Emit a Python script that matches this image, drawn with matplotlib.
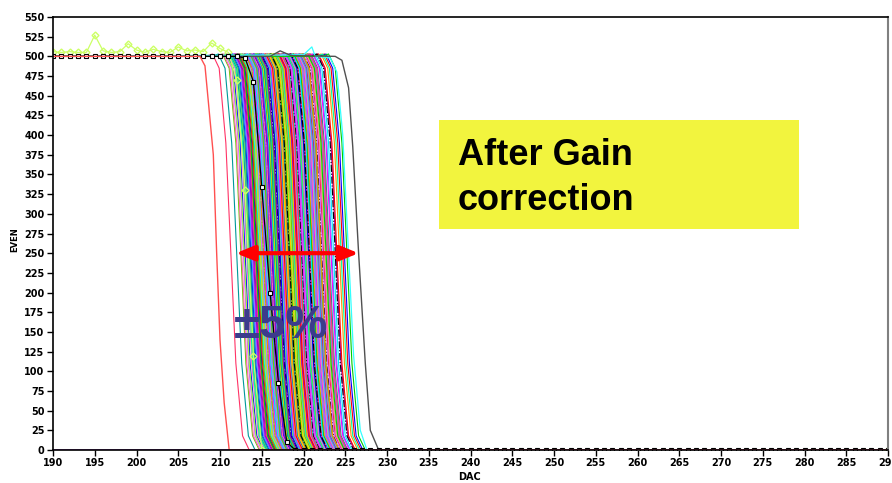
import matplotlib.pyplot as plt
from matplotlib.patches import Rectangle, FancyArrowPatch

# S-curve thresholds (DAC value at half height)
thresholds = [
    216.4, 219.8, 213.7, 221.3, 218.1, 215.2, 222.6, 217.5, 220.4, 214.3,
    219.1, 216.9, 223.4, 218.7, 212.8, 220.9, 217.2, 215.8, 221.7, 219.4,
    214.9, 218.3, 222.1, 216.1, 220.2, 213.2, 217.9, 223.9, 219.6, 215.5,
    221.0, 218.9, 214.6, 216.7, 222.9, 220.6, 217.0, 213.9, 219.2, 224.3,
    215.1, 218.5, 221.5, 216.3, 220.0, 214.1, 222.4, 217.7, 219.9, 212.5,
    218.0, 221.9, 215.9, 223.1, 216.6, 220.7, 214.4, 219.3, 217.4, 222.2,
    213.5, 218.8, 221.2, 216.0, 224.7, 219.7, 215.3, 220.3, 217.8, 214.8,
    222.8, 218.2, 216.5, 221.4, 213.0, 219.0, 223.6, 217.1, 220.5, 215.6,
    218.6, 214.0, 221.8, 216.8, 219.5, 222.0, 215.0, 217.6, 220.8, 213.4,
    218.4, 223.3, 216.2, 221.1, 214.7, 219.8, 217.3, 222.5, 215.7, 220.1,
    224.0, 218.9, 213.8, 216.9, 221.6, 219.1, 214.2, 217.9, 222.7, 215.4,
    220.6, 218.1, 216.4, 223.8, 212.9, 219.4, 221.3, 217.0, 214.5, 220.2,
    215.9, 218.7, 222.3, 216.6, 219.6, 213.6, 221.0, 217.5, 224.9, 215.2,
    220.9, 218.3, 214.9, 216.1, 222.9, 219.2, 217.7, 213.3, 221.7, 215.8,
    220.4, 218.0, 223.0, 216.7, 214.3, 219.9, 217.2, 222.1, 215.5, 220.7,
    218.6, 212.6, 221.9, 216.3, 219.3, 224.5, 217.4, 214.6, 220.0, 218.5,
    211.3, 212.0, 225.2,
]

# shape of one S-curve relative to its threshold
prof_dx = [-3.0, -2.2, -1.4, -0.6, 0.0, 0.6, 1.4, 2.2]
prof_y = [500, 503, 485, 390, 250, 110, 18, 0]

colors = ['#00cc00', '#ff00ff', '#0000ff', '#ff8c00', '#00e5ff', '#000000',
          '#99ff33', '#ff66b3', '#8080ff', '#9900cc', '#ff0000', '#00ff99',
          '#3399ff', '#66cc00', '#cc66ff', '#ffcc00', '#ff3366', '#009999']

# special channels
lime_x = [190, 191, 192, 193, 194, 195, 196, 197, 198, 199, 200, 201, 202,
          203, 204, 205, 206, 207, 208, 209, 210, 211, 212, 213, 214, 215, 290]
lime_y = [506, 505, 506, 505, 505, 527, 507, 505, 506, 516, 508, 505, 509,
          506, 505, 512, 507, 508, 506, 517, 510, 505, 470, 330, 120, 0, 0]

sq_x = [190, 191, 192, 193, 194, 195, 196, 197, 198, 199, 200, 201, 202, 203,
        204, 205, 206, 207, 208, 209, 210, 211, 212, 213, 214, 215, 216, 217,
        218, 219, 220, 221, 222, 223, 224, 225, 226, 227, 228, 229, 230, 231,
        232, 233, 234, 235, 236, 237, 238, 239, 240, 241, 242, 243, 244, 245,
        246, 247, 248, 249, 250, 251, 252, 253, 254, 255, 256, 257, 258, 259,
        260, 261, 262, 263, 264, 265, 266, 267, 268, 269, 270, 271, 272, 273,
        274, 275, 276, 277, 278, 279, 280, 281, 282, 283, 284, 285, 286, 287,
        288, 289, 290]
sq_y = [500] * 23 + [498, 468, 334, 200, 85, 10] + [0] * 72

cyan_x = [190, 220.0, 221.0, 221.4, 223.2, 224.0, 224.7, 225.3, 226.0, 226.8, 227.6, 290]
cyan_y = [500, 502, 512, 500, 498, 480, 400, 270, 120, 25, 0, 0]

edge_x = [190, 216.0, 217.2, 218.5, 223.8, 224.6, 225.4, 225.9, 226.6, 227.4, 228.0, 229.0, 290]
edge_y = [500, 500, 507, 501, 500, 495, 460, 385, 250, 110, 25, 0, 0]

red_x = [190, 207.6, 208.2, 209.2, 209.6, 210.0, 210.5, 211.1, 290]
red_y = [500, 500, 488, 375, 250, 140, 60, 0, 0]

dead_x = [190, 290]
dead_y = [0, 0]

fig = plt.figure(figsize=(8.92, 4.83), dpi=100)
ax = fig.add_axes([53 / 892, 1 - 450 / 483, 835 / 892, 433 / 483])

for i, t in enumerate(thresholds):
    xs = [190] + [t + d for d in prof_dx] + [290]
    ys = [500] + prof_y + [0]
    c = colors[i % len(colors)]
    ls = '-.' if c == '#000000' else '-'
    ax.plot(xs, ys, color=c, lw=0.8, ls=ls)

ax.plot(lime_x, lime_y, color='#ccff66', lw=0.9, marker='D', ms=3.5,
        mfc='none', mec='#ccff66')
ax.plot(cyan_x, cyan_y, color='#33ffff', lw=0.9)
ax.plot(edge_x, edge_y, color='#505050', lw=1.0)
ax.plot(sq_x, sq_y, color='#000000', lw=0.9, marker='s', ms=3.4,
        mfc='white', mec='#000000', mew=0.8)
ax.plot(dead_x, dead_y, color='#9933cc', lw=1.2)
ax.plot(red_x, red_y, color='#ff5050', lw=1.0)

ax.set_xlim(190, 290)
ax.set_ylim(0, 550)
ax.set_xticks(range(190, 291, 5))
ax.set_yticks(range(0, 551, 25))
ax.tick_params(direction='out', length=4, width=1, labelsize=7, pad=2)
for lab in ax.get_xticklabels() + ax.get_yticklabels():
    lab.set_fontweight('bold')
for s in ['left', 'bottom', 'top']:
    ax.spines[s].set_linewidth(1.2)
ax.spines['right'].set_color('#808080')
ax.spines['right'].set_linewidth(1.5)

fig.text(15 / 892, 1 - 240 / 483, 'EVEN', rotation=90, fontsize=6,
         fontweight='bold', ha='center', va='center')
fig.text(470 / 892, 1 - 477 / 483, 'DAC', fontsize=7, fontweight='bold',
         ha='center', va='center')

# annotation box
ax.add_patch(Rectangle((386 / 835, 221 / 433), 360 / 835, 109 / 433,
                       transform=ax.transAxes, facecolor='#f2f43e',
                       edgecolor='none', zorder=5))
fig.text(458 / 892, 1 - 165 / 483, 'After Gain', family='Liberation Sans',
         fontsize=26, fontweight='bold', va='baseline', zorder=6)
fig.text(458 / 892, 1 - 210 / 483, 'correction', family='Liberation Sans',
         fontsize=26, fontweight='bold', va='baseline', zorder=6)

arrow = FancyArrowPatch((211.9, 250), (226.6, 250),
                        arrowstyle='<|-|>,head_length=1.1,head_width=0.45',
                        mutation_scale=10, color='#ff0000', lw=3,
                        shrinkA=0, shrinkB=0, zorder=7)
ax.add_patch(arrow)
fig.text(234 / 892, 1 - 338 / 483, '±5%', family='Liberation Sans',
         fontsize=34, fontweight='bold', color='#3c3c8c', va='baseline',
         zorder=8)

fig.savefig('out.png', dpi=100)
